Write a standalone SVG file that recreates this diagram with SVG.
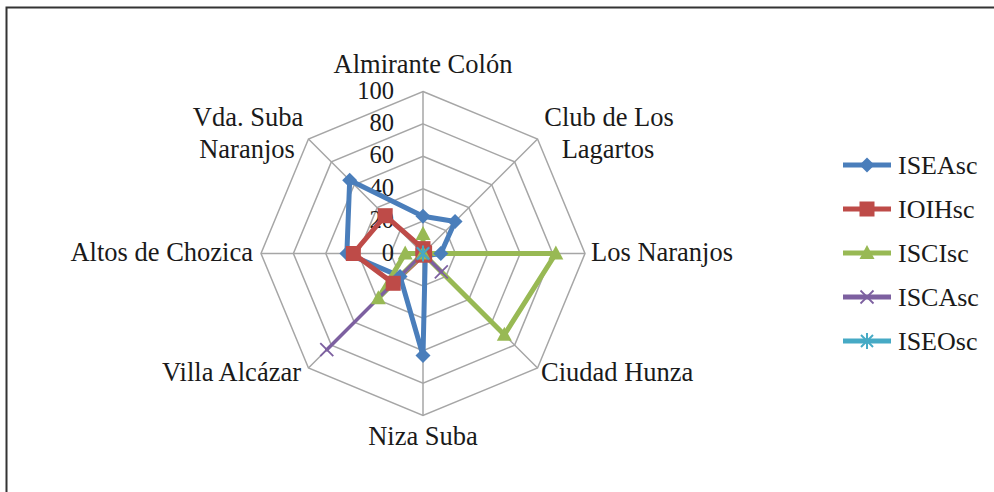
<svg xmlns="http://www.w3.org/2000/svg" width="994" height="492" viewBox="0 0 994 492">
<style>
text{font-family:"Liberation Serif","Times New Roman",serif;font-size:26.5px;fill:#1a1a1a}
.grid{fill:none;stroke:#a6a6a6;stroke-width:1.5}
.ser{fill:none;stroke-width:5;stroke-linejoin:round}
.tick{text-anchor:end;font-size:24.5px}
.mid{text-anchor:middle}
.end{text-anchor:end}
.leg{font-size:26px}
</style>
<defs>
<polygon id="mDia" points="0,-7.5 7.5,0 0,7.5 -7.5,0" fill="#4a7ebb"/>
<rect id="mSq" x="-7.5" y="-7.5" width="15" height="15" fill="#be4b48"/>
<polygon id="mTri" points="0,-8 7.5,6 -7.5,6" fill="#98b954"/>
<g id="mX" stroke="#7d60a0" stroke-width="1.8"><line x1="-6.5" y1="-6.5" x2="6.5" y2="6.5"/><line x1="-6.5" y1="6.5" x2="6.5" y2="-6.5"/></g>
<g id="mAst" stroke="#46aac5" stroke-width="2"><line x1="-6" y1="-6" x2="6" y2="6"/><line x1="-6" y1="6" x2="6" y2="-6"/><line x1="0" y1="-8" x2="0" y2="8"/></g>
</defs>
<rect width="994" height="492" fill="#fff"/>
<path d="M6.5,492 V7.5 H994" fill="none" stroke="#333" stroke-width="2"/>
<g id="grid">
<polygon class="grid" points="423,221.1 445.91,230.59 455.4,253.5 445.91,276.41 423,285.9 400.09,276.41 390.6,253.5 400.09,230.59"/>
<polygon class="grid" points="423,188.7 468.82,207.68 487.8,253.5 468.82,299.32 423,318.3 377.18,299.32 358.2,253.5 377.18,207.68"/>
<polygon class="grid" points="423,156.3 491.73,184.77 520.2,253.5 491.73,322.23 423,350.7 354.27,322.23 325.8,253.5 354.27,184.77"/>
<polygon class="grid" points="423,123.9 514.64,161.86 552.6,253.5 514.64,345.14 423,383.1 331.36,345.14 293.4,253.5 331.36,161.86"/>
<polygon class="grid" points="423,91.5 537.55,138.95 585,253.5 537.55,368.05 423,415.5 308.45,368.05 261,253.5 308.45,138.95"/>
<path class="grid" d="M423,253.5 L423,91.5 M423,253.5 L537.55,138.95 M423,253.5 L585,253.5 M423,253.5 L537.55,368.05 M423,253.5 L423,415.5 M423,253.5 L308.45,368.05 M423,253.5 L261,253.5 M423,253.5 L308.45,138.95"/>
</g>
<g id="ticks">
<text class="tick" x="394" y="99">100</text>
<text class="tick" x="394" y="131">80</text>
<text class="tick" x="394" y="163">60</text>
<text class="tick" x="394" y="196">40</text>
<text class="tick" x="394" y="228">20</text>
<text class="tick" x="394" y="261">0</text>
</g>
<g id="labels">
<text class="mid" x="423" y="73">Almirante Colón</text>
<text class="mid" x="609" y="126">Club de Los</text>
<text class="mid" x="608" y="158">Lagartos</text>
<text x="591" y="261">Los Naranjos</text>
<text x="541" y="381">Ciudad Hunza</text>
<text class="mid" x="423" y="445">Niza Suba</text>
<text class="end" x="301" y="381">Villa Alcázar</text>
<text class="end" x="253" y="261">Altos de Chozica</text>
<text class="mid" x="248" y="126">Vda. Suba</text>
<text class="mid" x="247" y="158">Naranjos</text>
</g>
<g id="connectors">
<polygon id="s-isea" class="ser" stroke="#4a7ebb" points="423,216.24 455.07,221.43 440.82,253.5 425.29,255.79 423,355.56 400.09,276.41 346.86,253.5 349.69,180.19"/>
<polygon id="s-ioih" class="ser" stroke="#be4b48" points="423,248.64 424.15,252.35 424.62,253.5 424.15,254.65 423,255.12 393.22,283.28 353.34,253.5 385.2,215.7"/>
<polygon id="s-isci" class="ser" stroke="#98b954" points="423,234.06 423,253.5 555.84,253.5 504.33,334.83 423,253.5 378.32,298.18 405.18,253.5 423,253.5"/>
<polygon id="s-isca" class="ser" stroke="#7d60a0" style="stroke-width:3.5" points="423,253.5 423,253.5 423,253.5 441.33,271.83 423,253.5 326.78,349.72 423,253.5 423,253.5"/>
<polygon id="s-iseo" class="ser" stroke="#46aac5" points="423,253.5 423,253.5 423,253.5 423,253.5 423,253.5 423,253.5 423,253.5 423,253.5"/>
</g>
<g id="markers">
<use href="#mDia" x="423" y="216.24"/><use href="#mDia" x="455.07" y="221.43"/><use href="#mDia" x="440.82" y="253.5"/><use href="#mDia" x="425.29" y="255.79"/><use href="#mDia" x="423" y="355.56"/><use href="#mDia" x="400.09" y="276.41"/><use href="#mDia" x="346.86" y="253.5"/><use href="#mDia" x="349.69" y="180.19"/>
<use href="#mSq" x="423" y="248.64"/><use href="#mSq" x="424.15" y="252.35"/><use href="#mSq" x="424.62" y="253.5"/><use href="#mSq" x="424.15" y="254.65"/><use href="#mSq" x="423" y="255.12"/><use href="#mSq" x="393.22" y="283.28"/><use href="#mSq" x="353.34" y="253.5"/><use href="#mSq" x="385.2" y="215.7"/>
<use href="#mTri" x="423" y="234.06"/><use href="#mTri" x="423" y="253.5"/><use href="#mTri" x="555.84" y="253.5"/><use href="#mTri" x="504.33" y="334.83"/><use href="#mTri" x="378.32" y="298.18"/><use href="#mTri" x="405.18" y="253.5"/>
<use href="#mX" x="423" y="253.5"/><use href="#mX" x="441.33" y="271.83"/><use href="#mX" x="326.78" y="349.72"/>
<use href="#mAst" x="423" y="253.5"/>
</g>
<g id="legend">
<g id="leg-isea"><line x1="843" y1="165" x2="891" y2="165" stroke="#4a7ebb" stroke-width="5"/><use href="#mDia" x="867" y="165"/><text class="leg" x="898" y="174">ISEAsc</text></g>
<g id="leg-ioih"><line x1="843" y1="209" x2="891" y2="209" stroke="#be4b48" stroke-width="5"/><use href="#mSq" x="867" y="209"/><text class="leg" x="898" y="218">IOIHsc</text></g>
<g id="leg-isci"><line x1="843" y1="253" x2="891" y2="253" stroke="#98b954" stroke-width="5"/><use href="#mTri" x="867" y="253"/><text class="leg" x="898" y="262">ISCIsc</text></g>
<g id="leg-isca"><line x1="843" y1="297" x2="891" y2="297" stroke="#7d60a0" stroke-width="5"/><use href="#mX" x="867" y="297"/><text class="leg" x="898" y="306">ISCAsc</text></g>
<g id="leg-iseo"><line x1="843" y1="341" x2="891" y2="341" stroke="#46aac5" stroke-width="5"/><use href="#mAst" x="867" y="341"/><text class="leg" x="898" y="350">ISEOsc</text></g>
</g>
</svg>
